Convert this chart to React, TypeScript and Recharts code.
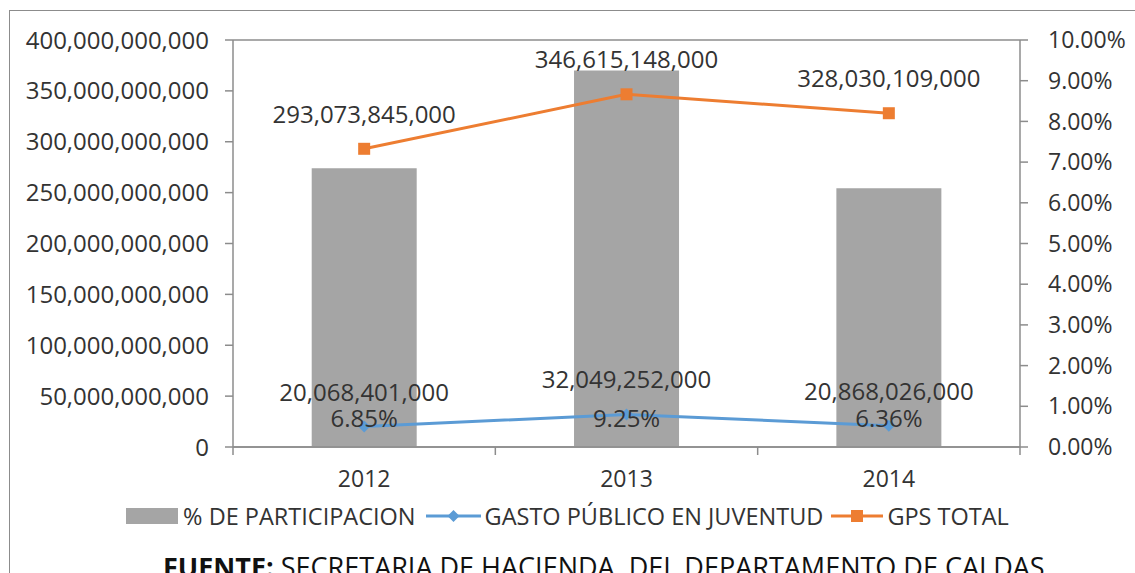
import { ComposedChart, Bar, Line, XAxis, YAxis, CartesianGrid, Legend, LabelList } from 'recharts';

const years = ['2012', '2013', '2014'];
const participacion = [0.0685, 0.0925, 0.0636];
const gastoJuventud = [20068401000, 32049252000, 20868026000];
const gpsTotal = [293073845000, 346615148000, 328030109000];
const leftTicks = [0, 50000000000, 100000000000, 150000000000, 200000000000, 250000000000, 300000000000, 350000000000, 400000000000];
const rightTicks = [0, 0.01, 0.02, 0.03, 0.04, 0.05, 0.06, 0.07, 0.08, 0.09, 0.1];

const data = years.map((year, i) => ({
  year,
  participacion: participacion[i],
  juventud: gastoJuventud[i],
  gps: gpsTotal[i],
}));

const FONT = '"Open Sans", sans-serif';
const TEXT = '#333333';
const GRID = '#8c8c8c';
const GRAY = '#a5a5a5';
const BLUE = '#5b9bd5';
const ORANGE = '#ed7d31';

const money = (v: number) => v.toLocaleString('en-US');
const pct = (v: number) => (v * 100).toFixed(2) + '%';

const Diamond = (props: any) => {
  const { cx, cy } = props;
  if (cx == null || cy == null) return null;
  return <polygon points={`${cx},${cy - 6} ${cx + 6},${cy} ${cx},${cy + 6} ${cx - 6},${cy}`} fill={BLUE} />;
};

const Square = (props: any) => {
  const { cx, cy } = props;
  if (cx == null || cy == null) return null;
  return <rect x={cx - 6} y={cy - 6} width={12} height={12} fill={ORANGE} />;
};

const BarValueLabel = (props: any) => {
  const vb = props.viewBox || props;
  const { x, y, width, height } = vb;
  return (
    <text x={x + width / 2} y={y + height - 20} textAnchor="middle" fill={TEXT} fontSize={24} fontFamily={FONT}>
      {pct(props.value)}
    </text>
  );
};

const YearTick = (props: any) => {
  const { x, y, payload, index } = props;
  const half = payload.offset ?? 131;
  return (
    <g>
      <line x1={x - half} y1={y} x2={x - half} y2={y + 8} stroke={GRID} strokeWidth={1.5} />
      {index === years.length - 1 && <line x1={x + half} y1={y} x2={x + half} y2={y + 8} stroke={GRID} strokeWidth={1.5} />}
      <text x={x} y={y + 40} textAnchor="middle" fill={TEXT} fontSize={23} fontFamily={FONT}>
        {payload.value}
      </text>
    </g>
  );
};

const LegendContent = () => (
  <div style={{ display: 'flex', justifyContent: 'center', alignItems: 'center', fontFamily: FONT, fontSize: 23.5, color: TEXT, whiteSpace: 'nowrap' }}>
    <svg width={52} height={18} style={{ marginRight: 5 }}>
      <rect x={0} y={1} width={52} height={16} fill={GRAY} />
    </svg>
    <span style={{ marginRight: 10 }}>% DE PARTICIPACION</span>
    <svg width={55} height={18} style={{ marginRight: 4 }}>
      <line x1={0} y1={9} x2={55} y2={9} stroke={BLUE} strokeWidth={3} />
      <polygon points="27.5,3 33.5,9 27.5,15 21.5,9" fill={BLUE} />
    </svg>
    <span style={{ marginRight: 8 }}>GASTO PÚBLICO EN JUVENTUD</span>
    <svg width={52} height={18} style={{ marginRight: 4 }}>
      <line x1={0} y1={9} x2={52} y2={9} stroke={ORANGE} strokeWidth={3} />
      <rect x={20} y={3} width={12} height={12} fill={ORANGE} />
    </svg>
    <span>GPS TOTAL</span>
  </div>
);

export default function App() {
  return (
    <div style={{ position: 'absolute', left: 0, top: 0, width: 1135, height: 573, overflow: 'hidden', background: '#fff' }}>
      <div style={{ position: 'absolute', left: 9, top: 10, width: 1300, height: 700, border: '1.5px solid #8c8c8c' }} />
      <ComposedChart
        width={1135}
        height={573}
        data={data}
        margin={{ top: 40, right: 0, left: 0, bottom: 86 }}
        barCategoryGap="30%"
      >
        <CartesianGrid vertical={false} stroke={GRID} strokeWidth={1.5} />
        <XAxis
          dataKey="year"
          height={40}
          stroke={GRID}
          strokeWidth={1.5}
          tickLine={false}
          tickSize={0}
          tickMargin={0}
          tick={<YearTick />}
          interval={0}
        />
        <YAxis
          yAxisId="left"
          width={233}
          domain={[0, 400000000000]}
          ticks={leftTicks}
          tickFormatter={money}
          stroke={GRID}
          strokeWidth={1.5}
          tickSize={8}
          tickMargin={16}
          tick={{ fill: TEXT, fontSize: 24, fontFamily: FONT }}
          interval={0}
        />
        <YAxis
          yAxisId="right"
          orientation="right"
          width={115}
          domain={[0, 0.1]}
          ticks={rightTicks}
          tickFormatter={pct}
          stroke={GRID}
          strokeWidth={1.5}
          tickSize={8}
          tickMargin={20}
          tick={{ fill: TEXT, fontSize: 23, fontFamily: FONT, textAnchor: 'start' }}
          interval={0}
        />
        <Legend
          verticalAlign="middle"
          align="center"
          layout="horizontal"
          content={<LegendContent />}
          wrapperStyle={{ top: 500, left: 0, width: 1135 }}
        />
        <Bar yAxisId="right" dataKey="participacion" name="% DE PARTICIPACION" fill={GRAY} isAnimationActive={false}>
          <LabelList dataKey="participacion" content={<BarValueLabel />} />
        </Bar>
        <Line
          yAxisId="left"
          dataKey="juventud"
          name="GASTO PÚBLICO EN JUVENTUD"
          stroke={BLUE}
          strokeWidth={3}
          dot={<Diamond />}
          activeDot={false}
          isAnimationActive={false}
        >
          <LabelList dataKey="juventud" position="top" offset={26} formatter={(v: any) => money(Number(v))} fill={TEXT} fontSize={24} fontFamily={FONT} />
        </Line>
        <Line
          yAxisId="left"
          dataKey="gps"
          name="GPS TOTAL"
          stroke={ORANGE}
          strokeWidth={3}
          dot={<Square />}
          activeDot={false}
          isAnimationActive={false}
        >
          <LabelList dataKey="gps" position="top" offset={26} formatter={(v: any) => money(Number(v))} fill={TEXT} fontSize={24} fontFamily={FONT} />
        </Line>
      </ComposedChart>
      <div style={{ position: 'absolute', left: 163, top: 548, fontFamily: FONT, fontSize: 27, color: '#111', whiteSpace: 'nowrap' }}>
        <b>FUENTE:</b> SECRETARIA DE HACIENDA&nbsp; DEL DEPARTAMENTO DE CALDAS
      </div>
    </div>
  );
}
